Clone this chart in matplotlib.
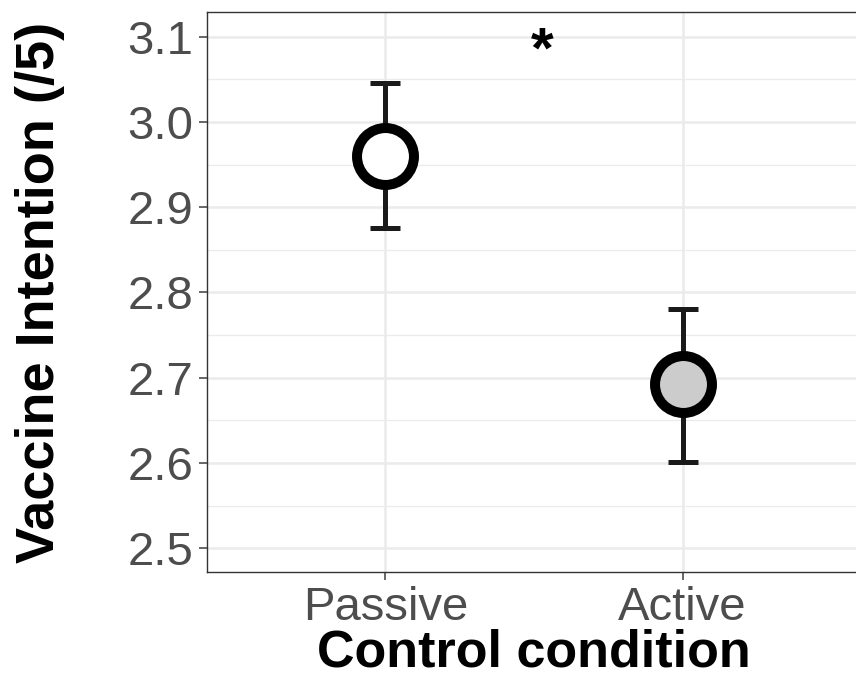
import numpy as np
import matplotlib.pyplot as plt

plt.rcParams['font.family'] = ['Liberation Sans', 'DejaVu Sans']

# data
conditions = ["Passive", "Active"]
means = [2.960, 2.692]
upper = [3.046, 2.780]
lower = [2.876, 2.601]
fills = ["white", "#cccccc"]
y_ticks = [2.5, 2.6, 2.7, 2.8, 2.9, 3.0, 3.1]

fig = plt.figure(figsize=(8.56, 6.79), dpi=100)
ax = fig.add_axes([0.2418, 0.1576, 0.7640, 0.8247])

x = np.arange(1, len(conditions) + 1)
err = [np.array(means) - np.array(lower), np.array(upper) - np.array(means)]

for i in range(len(conditions)):
    ax.errorbar(x[i], means[i], yerr=[[err[0][i]], [err[1][i]]], fmt="none",
                ecolor="#1a1a1a", elinewidth=3.6, capsize=10.8, capthick=3.6, zorder=3)
    ax.plot(x[i], means[i], "o", ms=41, mfc=fills[i], mec="black", mew=7.2, zorder=4)

# significance marker
ax.text(1.527, 3.081, "*", ha="center", va="center", fontsize=42, fontweight="bold")

ax.set_xticks(x)
ax.set_xticklabels(conditions)
ax.set_yticks(y_ticks)
ax.set_yticklabels([f"{v:.1f}" for v in y_ticks])
ax.set_yticks(np.arange(2.55, 3.15, 0.1), minor=True)
ax.set_xlim(0.4, 2.6)
ax.set_ylim(2.472, 3.129)

ax.grid(True, which="major", color="#ebebeb", lw=1.8, zorder=0)
ax.grid(True, which="minor", axis="y", color="#ebebeb", lw=0.9, zorder=0)
ax.set_axisbelow(True)

for s in ax.spines.values():
    s.set_color("#333333")
    s.set_linewidth(1.0)

ax.tick_params(axis="both", which="major", labelsize=34, colors="#4d4d4d",
               length=6, width=1.2, pad=4)
ax.tick_params(axis="y", which="minor", length=0)

ax.set_xlabel("Control condition", fontsize=37.5, fontweight="bold", labelpad=-1)
ax.set_ylabel("Vaccine Intention (/5)", fontsize=39, fontweight="bold", labelpad=45)

fig.savefig("out.png", dpi=100)
